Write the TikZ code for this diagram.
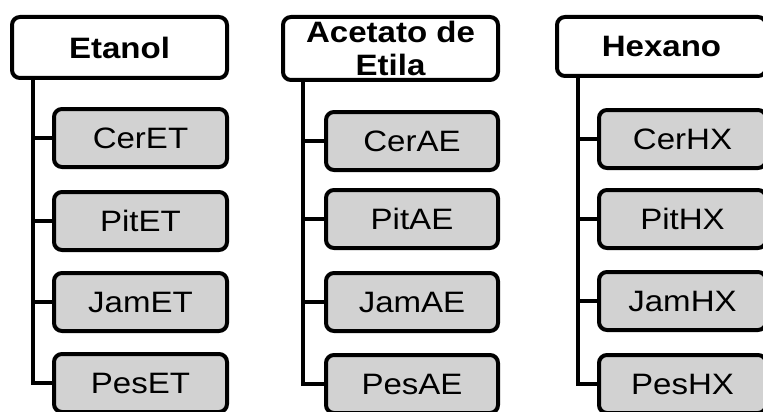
\documentclass[tikz,border=0pt]{standalone}
\usepackage{fontspec}
\setmainfont[FakeStretch=1.12]{Liberation Sans}
\definecolor{leafgray}{RGB}{210,210,210}
\begin{document}
\begin{tikzpicture}[x=1pt,y=-1pt,
  headbox/.style={draw=black, fill=white, line width=4pt, rounded corners=8pt,
    inner sep=0pt, align=center, minimum height=61pt,
    font=\fontsize{29.5}{32.5}\selectfont\bfseries},
  leafbox/.style={draw=black, fill=leafgray, line width=4pt, rounded corners=8pt,
    inner sep=0pt, minimum height=58pt, font=\fontsize{29.5}{32}\selectfont},
  link/.style={line width=4pt}]
\useasboundingbox (0,0) rectangle (763,412);

% solvent columns (headers)
\node[headbox, minimum width=215pt] (et) at (119.5,47.5) {Etanol};
\node[headbox, minimum width=215pt, minimum height=63pt] (ae) at (390.5,48.5) {Acetato de\\Etila};
\node[headbox, minimum width=209pt, minimum height=59pt] (hx) at (661.5,46.5) {Hexano};

% x positions of the trunk lines
\coordinate (etx) at (33,0);
\coordinate (aex) at (303,0);
\coordinate (hxx) at (578,0);

% Etanol extracts
\node[leafbox, minimum width=173pt] (ceret) at (140.5,138) {CerET};
\node[leafbox, minimum width=173pt] (pitet) at (140.5,221) {PitET};
\node[leafbox, minimum width=173pt] (jamet) at (140.5,302) {JamET};
\node[leafbox, minimum width=173pt] (peset) at (140.5,383) {PesET};

% Acetato de Etila extracts
\node[leafbox, minimum width=172pt] (cerae) at (412,141) {CerAE};
\node[leafbox, minimum width=172pt] (pitae) at (412,219) {PitAE};
\node[leafbox, minimum width=172pt] (jamae) at (412,302) {JamAE};
\node[leafbox, minimum width=172pt] (pesae) at (412,384) {PesAE};

% Hexano extracts
\node[leafbox, minimum width=167pt] (cerhx) at (682.5,139) {CerHX};
\node[leafbox, minimum width=167pt] (pithx) at (682.5,219) {PitHX};
\node[leafbox, minimum width=167pt] (jamhx) at (682.5,301) {JamHX};
\node[leafbox, minimum width=167pt] (peshx) at (682.5,384) {PesHX};

% connectors
\foreach \c in {ceret,pitet,jamet,peset}
  \draw[link] (etx |- et.south) |- (\c.west);
\foreach \c in {cerae,pitae,jamae,pesae}
  \draw[link] (aex |- ae.south) |- (\c.west);
\foreach \c in {cerhx,pithx,jamhx,peshx}
  \draw[link] (hxx |- hx.south) |- (\c.west);
\end{tikzpicture}
\end{document}
